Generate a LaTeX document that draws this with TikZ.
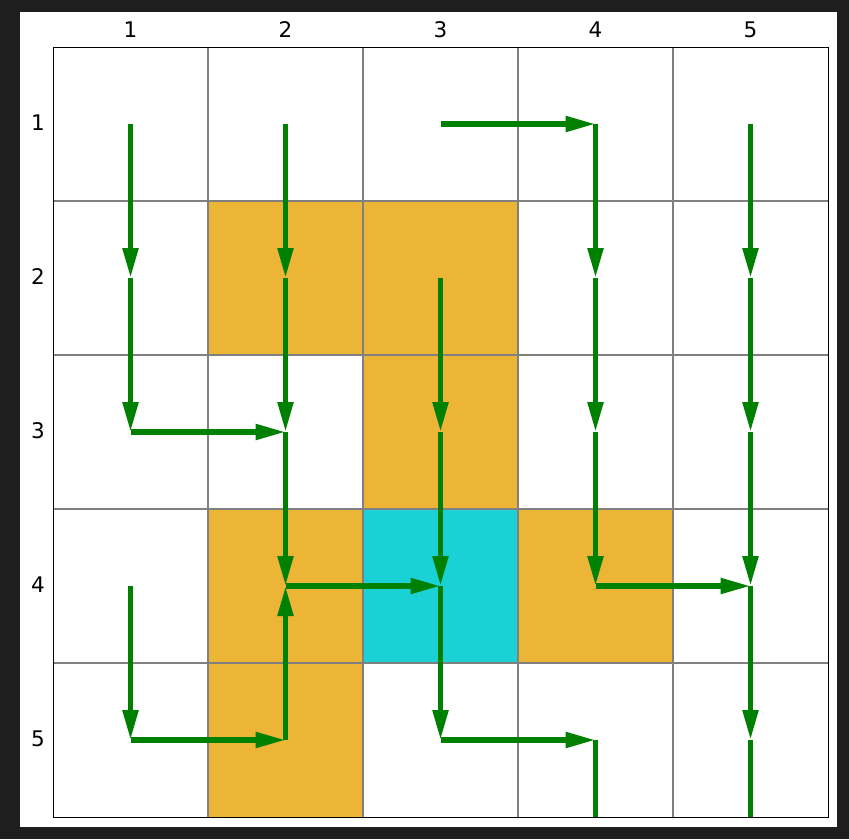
\documentclass[tikz,border=0pt]{standalone}
\usepackage{fontspec}
\setmainfont{DejaVu Sans}
\usetikzlibrary{arrows.meta}
\definecolor{bgdark}{HTML}{1E1E1E}
\definecolor{cellorange}{HTML}{EDB535}
\definecolor{cellcyan}{HTML}{1AD2D6}
\definecolor{flowgreen}{HTML}{008000}
\definecolor{gridgray}{HTML}{808080}
\tikzset{
  flow/.style={draw=flowgreen, line width=5.3pt, line cap=butt, -{Triangle[length=30pt,width=15pt]}},
  flowend/.style={draw=flowgreen, line width=5.3pt, line cap=butt},
  lbl/.style={font=\fontsize{21.5}{26}\selectfont, inner sep=0pt}
}
\begin{document}
\begin{tikzpicture}[x=1pt,y=-1pt]
\useasboundingbox (0,0) rectangle (849,839);
\fill[bgdark] (0,0) rectangle (849,839);
\fill[white] (20,12) rectangle (837,827);
% colored cells
\fill[cellorange] (208,201) rectangle (363,355);
\fill[cellorange] (363,201) rectangle (518,355);
\fill[cellorange] (363,355) rectangle (518,509);
\fill[cellorange] (208,509) rectangle (363,663);
\fill[cellorange] (518,509) rectangle (673,663);
\fill[cellorange] (208,663) rectangle (363,817);
\fill[cellcyan] (363,509) rectangle (518,663);
% grid
\foreach \x in {208,363,518,673} \draw[gridgray, line width=1.3pt] (\x,47) -- (\x,817);
\foreach \y in {201,355,509,663} \draw[gridgray, line width=1.3pt] (53,\y) -- (828,\y);
\draw[black, line width=1pt] (53,47) rectangle (828,817);
% labels
\foreach \c/\x in {1/130.5,2/285.5,3/440.5,4/595.5,5/750.5}
  \node[lbl] (top\c) at (\x,30) {\c};
\foreach \r/\y in {1/122.5,2/276.5,3/430.5,4/584.5,5/738.5}
  \node[lbl] (left\r) at (38,\y) {\r};
% centers
\foreach \r/\y in {1/124,2/278,3/432,4/586,5/740}
  \foreach \c/\x in {1/130.5,2/285.5,3/440.5,4/595.5,5/750.5}
    \coordinate (p\r\c) at (\x,\y);
\coordinate (b4) at (595.5,817);
\coordinate (b5) at (750.5,817);
% arrows
\draw[flow] (p11) -- (p21);
\draw[flow] (p21) -- (p31);
\draw[flow] (p31) -- (p32);
\draw[flow] (p12) -- (p22);
\draw[flow] (p22) -- (p32);
\draw[flow] (p32) -- (p42);
\draw[flow] (p13) -- (p14);
\draw[flow] (p14) -- (p24);
\draw[flow] (p24) -- (p34);
\draw[flow] (p34) -- (p44);
\draw[flow] (p44) -- (p45);
\draw[flow] (p15) -- (p25);
\draw[flow] (p25) -- (p35);
\draw[flow] (p35) -- (p45);
\draw[flow] (p45) -- (p55);
\draw[flowend] (p55) -- (b5);
\draw[flow] (p23) -- (p33);
\draw[flow] (p33) -- (p43);
\draw[flow] (p43) -- (p53);
\draw[flow] (p53) -- (p54);
\draw[flowend] (p54) -- (b4);
\draw[flow] (p42) -- (p43);
\draw[flow] (p41) -- (p51);
\draw[flow] (p51) -- (p52);
\draw[flow] (p52) -- (p42);
\end{tikzpicture}
\end{document}
